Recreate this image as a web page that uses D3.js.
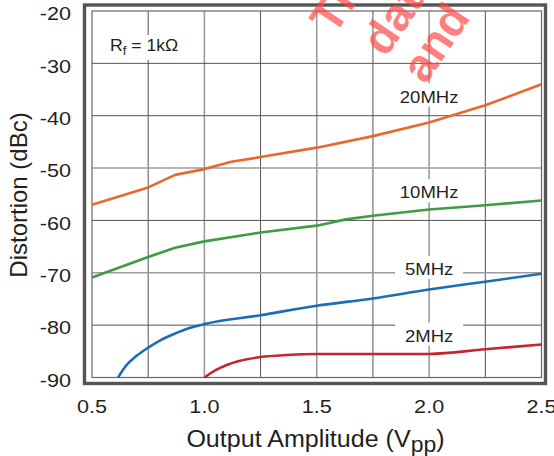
<!DOCTYPE html>
<html>
<head>
<meta charset="utf-8">
<script src="https://cdn.jsdelivr.net/npm/d3@7/dist/d3.min.js"></script>
<style>
  html, body { margin: 0; padding: 0; background: #fff; }
  svg { display: block; }
  text { font-family: "Liberation Sans", Arial, Helvetica, sans-serif; fill: #231f20; }
</style>
</head>
<body>
<svg id="chart" width="554" height="456"></svg>
<script>
// Harmonic distortion vs. output amplitude, one curve per frequency
const xTicks = [0.5, 1.0, 1.5, 2.0, 2.5];
const xTickLabels = ["0.5", "1.0", "1.5", "2.0", "2.5"];
const yTicks = [-20, -30, -40, -50, -60, -70, -80, -90];
const yTickLabels = ["-20", "-30", "-40", "-50", "-60", "-70", "-80", "-90"];
const xGrid = [0.75, 1.0, 1.25, 1.5, 1.75, 2.0, 2.25];
const yGrid = [-30, -40, -50, -60, -70, -80];

const seriesNames = ["20MHz", "10MHz", "5MHz", "2MHz"];
const amp20 = [0.5, 0.75, 0.87, 1.0, 1.12, 1.25, 1.5, 1.75, 2.0, 2.25, 2.5];
const dist20 = [-57.0, -53.7, -51.3, -50.2, -48.8, -47.9, -46.1, -43.9, -41.3, -38.0, -34.0];
const amp10 = [0.5, 0.75, 0.87, 1.0, 1.25, 1.5, 1.63, 1.75, 2.0, 2.25, 2.5];
const dist10 = [-70.9, -67.0, -65.2, -64.0, -62.3, -61.0, -59.8, -59.1, -57.9, -57.1, -56.2];
const amp5 = [0.616, 0.65, 0.7, 0.75, 0.8, 0.87, 0.93, 1.0, 1.25, 1.5, 1.75, 2.0, 2.25, 2.5];
const dist5 = [-90.0, -87.8, -85.8, -84.3, -83.0, -81.6, -80.6, -79.8, -78.1, -76.3, -74.9, -73.2, -71.7, -70.2];
const amp2 = [1.0, 1.05, 1.1, 1.15, 1.25, 1.37, 1.5, 2.0, 2.25, 2.5];
const dist2 = [-90.0, -88.6, -87.6, -86.9, -86.1, -85.7, -85.5, -85.5, -84.6, -83.7];

const svg = d3.select("#chart");
const plotLeft = 92, plotRight = 541.5, plotTop = 11, plotBottom = 377.5;

const x = d3.scaleLinear().domain([0.5, 2.5]).range([plotLeft, plotRight]);
const y = d3.scaleLinear().domain([-90, -20]).range([plotBottom, plotTop]);

const colors = ["#e8692a", "#3f9b45", "#1c6db6", "#c1272d"];
const series = [
  { name: seriesNames[0], amp: amp20, dist: dist20, labelBase: 102.5, curve: d3.curveLinear },
  { name: seriesNames[1], amp: amp10, dist: dist10, labelBase: 198.3, curve: d3.curveLinear },
  { name: seriesNames[2], amp: amp5, dist: dist5, labelBase: 275, curve: d3.curveMonotoneX },
  { name: seriesNames[3], amp: amp2, dist: dist2, labelBase: 341.7, curve: d3.curveMonotoneX }
];

// outer heavy frame
svg.append("rect")
  .attr("x", 84.5).attr("y", 5).attr("width", 461).attr("height", 378.5)
  .attr("fill", "none").attr("stroke", "#555").attr("stroke-width", 3.4);

// grid
const lightX = new Set([1.0, 1.5, 2.0]);
const lightY = new Set([-50, -70]);
const grid = svg.append("g");
grid.selectAll("line.v").data(xGrid).join("line")
  .attr("class", "v")
  .attr("x1", d => x(d)).attr("x2", d => x(d))
  .attr("y1", plotTop).attr("y2", plotBottom)
  .attr("stroke", d => lightX.has(d) ? "#9c9c9c" : "#555")
  .attr("stroke-width", d => lightX.has(d) ? 1.6 : 1);
grid.selectAll("line.h").data(yGrid).join("line")
  .attr("class", "h")
  .attr("x1", plotLeft).attr("x2", plotRight)
  .attr("y1", d => y(d)).attr("y2", d => y(d))
  .attr("stroke", d => lightY.has(d) ? "#9c9c9c" : "#555")
  .attr("stroke-width", d => lightY.has(d) ? 1.6 : 1);

// inner frame
svg.append("rect")
  .attr("x", plotLeft).attr("y", plotTop)
  .attr("width", plotRight - plotLeft).attr("height", plotBottom - plotTop)
  .attr("fill", "none").attr("stroke", "#666").attr("stroke-width", 1.2);

// curves
series.forEach((s, i) => {
  const line = d3.line().x(d => x(d[0])).y(d => y(d[1])).curve(s.curve);
  const pts = s.amp.map((a, k) => [a, s.dist[k]]);
  svg.append("path").datum(pts)
    .attr("d", line)
    .attr("fill", "none")
    .attr("stroke", colors[i])
    .attr("stroke-width", 2.6)
    .attr("stroke-linejoin", "round");
});

// curve labels on white patches
series.forEach(s => {
  svg.append("rect")
    .attr("x", x(2.0) - 34).attr("y", s.labelBase - 19)
    .attr("width", 68).attr("height", 23).attr("fill", "#fff");
  svg.append("text")
    .attr("transform", `translate(${x(2.0)},${s.labelBase}) scale(1.09,1)`)
    .attr("text-anchor", "middle")
    .style("font-size", "17px")
    .text(s.name);
});

// Rf annotation
svg.append("rect").attr("x", 104).attr("y", 35).attr("width", 84).attr("height", 25).attr("fill", "#fff");
const rf = svg.append("text")
  .attr("transform", "translate(110,50.7) scale(1.1,1)")
  .style("font-size", "16px");
rf.append("tspan").text("R");
rf.append("tspan").attr("dy", 4).style("font-size", "12px").text("f");
rf.append("tspan").attr("dy", -4).text(" = 1k\u03A9");

// y tick labels
svg.append("g").selectAll("text").data(yTicks).join("text")
  .attr("transform", d => `translate(71,${y(d) + 9.2}) scale(1.2,1)`)
  .attr("text-anchor", "end")
  .style("font-size", "18px")
  .text((d, i) => yTickLabels[i]);

// x tick labels
svg.append("g").selectAll("text").data(xTicks).join("text")
  .attr("transform", d => `translate(${x(d)},412.7) scale(1.2,1)`)
  .attr("text-anchor", "middle")
  .style("font-size", "18px")
  .text((d, i) => xTickLabels[i]);

// axis titles
const xt = svg.append("text")
  .attr("transform", "translate(315.5,446.5) scale(1.045,1)")
  .attr("text-anchor", "middle")
  .style("font-size", "24px");
xt.append("tspan").text("Output Amplitude (V");
xt.append("tspan").attr("dy", 5).style("font-size", "22px").text("pp");
xt.append("tspan").attr("dy", -5).text(")");

svg.append("text")
  .attr("transform", "translate(26.7,195) rotate(-90)")
  .attr("text-anchor", "middle")
  .style("font-size", "24px")
  .text("Distortion (dBc)");

// preliminary stamp across the top
const stampLines = [
  { t: "This", dx: -11, dy: -55 },
  { t: "data", dx: 0, dy: 0 },
  { t: "and", dx: -0.5, dy: 48 }
];
const stamp = svg.append("g")
  .attr("transform", "translate(386,57.9) rotate(-56)");
stamp.selectAll("text").data(stampLines).join("text")
  .attr("x", d => d.dx)
  .attr("y", d => d.dy)
  .style("font-size", "46px")
  .style("font-weight", "bold")
  .style("fill", "rgba(255,70,70,0.7)")
  .text(d => d.t);
</script>
</body>
</html>
